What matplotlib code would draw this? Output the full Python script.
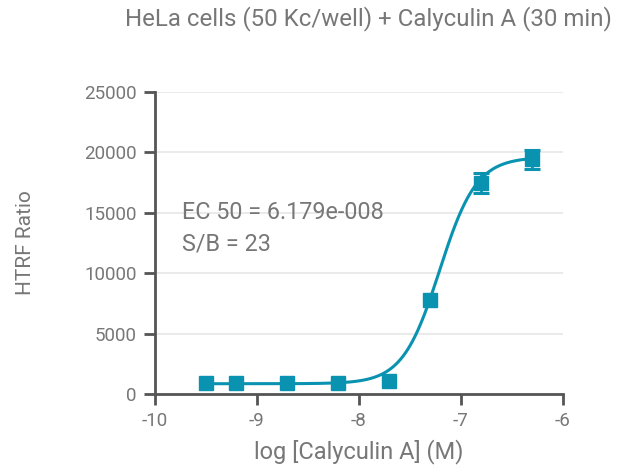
import matplotlib
matplotlib.use("Agg")
import matplotlib.pyplot as plt
import numpy as np

# data
log_conc = [-9.5, -9.2, -8.7, -8.2, -7.7, -7.3, -6.8, -6.3]
ratio = [900, 950, 900, 950, 1100, 7800, 17450, 19400]
ratio_err = [0, 0, 0, 0, 0, 0, 850, 750]

# 4PL fit parameters
fit_bottom = 850
fit_top = 19600
fit_logec50 = np.log10(6.179e-8)
fit_hill = 2.4

plt.rcParams['font.family'] = ['Roboto', 'DejaVu Sans']
plt.rcParams['axes.unicode_minus'] = False

blue = "#0a93b0"
grey = "#777777"

fig = plt.figure(figsize=(6.29, 4.66), dpi=100)
ax = fig.add_axes([0.246, 0.1545, 0.649, 0.6485])

xs = np.linspace(-9.5, -6.3, 400)
ys = fit_bottom + (fit_top - fit_bottom) / (1 + 10 ** ((fit_logec50 - xs) * fit_hill))
ax.plot(xs, ys, color=blue, lw=2.2, zorder=3)
ax.plot(log_conc, ratio, 's', color=blue, ms=10, zorder=4)
x_e = [x for x, e in zip(log_conc, ratio_err) if e > 0]
y_e = [y for y, e in zip(ratio, ratio_err) if e > 0]
e_e = [e for e in ratio_err if e > 0]
ax.errorbar(x_e, y_e, yerr=e_e, fmt='none', ecolor=blue,
            capsize=6, elinewidth=2, capthick=2.2, zorder=4)

ax.set_xlim(-10, -6)
ax.set_ylim(0, 25000)
ax.set_xticks([-10, -9, -8, -7, -6])
ax.set_yticks([0, 5000, 10000, 15000, 20000, 25000])
ax.grid(axis='y', color='#e6e6e6', lw=1.2, zorder=0)
ax.set_axisbelow(True)
for s in ['top', 'right']:
    ax.spines[s].set_visible(False)
for s in ['left', 'bottom']:
    ax.spines[s].set_color('#555555')
    ax.spines[s].set_linewidth(2)
ax.tick_params(direction='out', length=8, width=2, color='#555555',
               labelcolor=grey, labelsize=13.5, pad=5)

ax.set_xlabel("log [Calyculin A] (M)", color=grey, fontsize=17)
ax.xaxis.set_label_coords(0.5, -0.192)
ax.xaxis.label.set_va('center')
ax.set_ylabel("HTRF Ratio", color=grey, fontsize=15)
ax.yaxis.set_label_coords(-0.316, 0.5)
ax.yaxis.label.set_va('center')
fig.text(0.585, 0.961, "HeLa cells (50 Kc/well) + Calyculin A (30 min)",
         ha='center', va='center', color=grey, fontsize=17.3)
ax.text(-9.73, 13700, "EC 50 = 6.179e-008\nS/B = 23", color=grey,
        fontsize=16.8, va='center', linespacing=1.45)

fig.savefig("out.png", dpi=100)
